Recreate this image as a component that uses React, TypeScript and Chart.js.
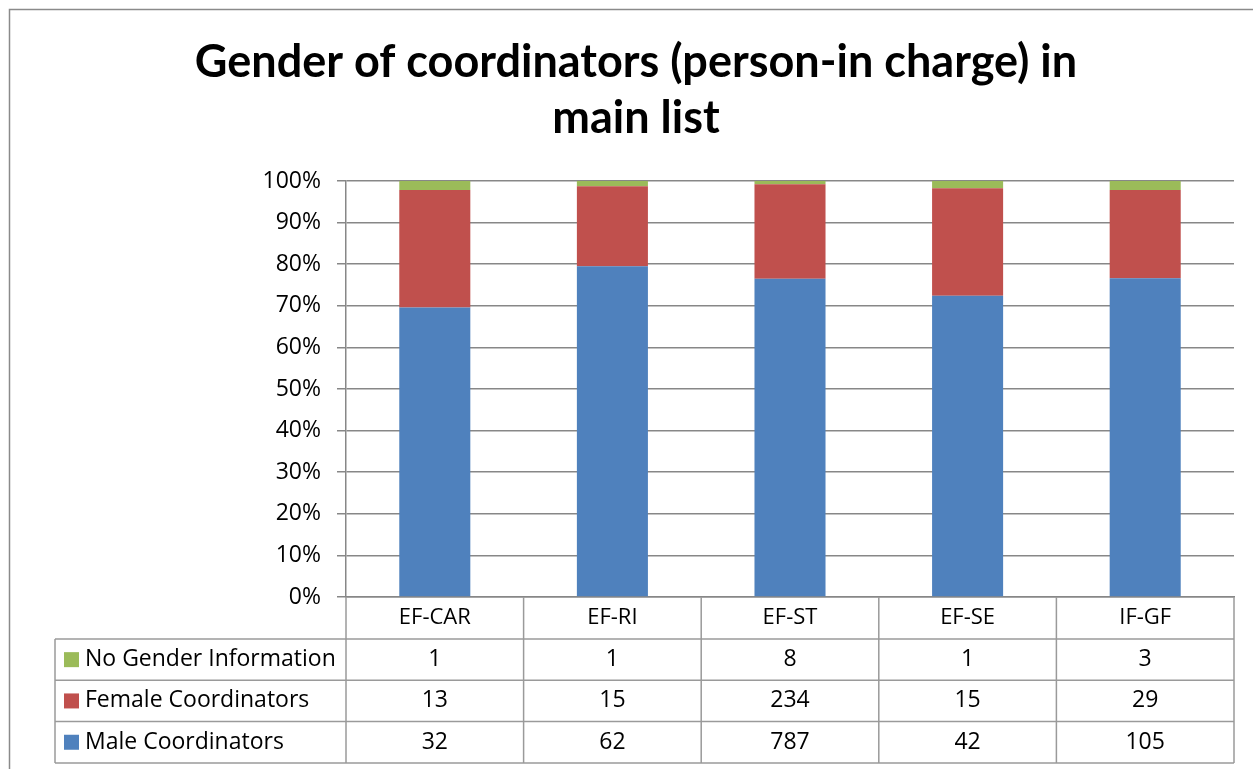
import React, { useEffect, useRef } from "react";
import { Chart, registerables } from "chart.js";

Chart.register(...registerables);

const titleLines = ["Gender of coordinators (person-in charge) in", "main list"];
const categories = ["EF-CAR", "EF-RI", "EF-ST", "EF-SE", "IF-GF"];
const maleCounts = [32, 62, 787, 42, 105];
const femaleCounts = [13, 15, 234, 15, 29];
const noGenderCounts = [1, 1, 8, 1, 3];
const seriesNames = ["Male Coordinators", "Female Coordinators", "No Gender Information"];
const seriesColors = ["#4F81BD", "#C0504D", "#9BBB59"];

const TITLE_FONT = "Lato, 'Open Sans', sans-serif";
const FONT = "'Open Sans', Lato, sans-serif";
const totals = categories.map((_, i) => maleCounts[i] + femaleCounts[i] + noGenderCounts[i]);
const toPct = (arr: number[]) => arr.map((v, i) => (v / totals[i]) * 100);

const tablePlugin = {
  id: "dataTable",
  afterLayout(chart: any) {
    const t = chart.titleBlock;
    if (t) {
      t.left = 19;
      t.right = chart.width;
      t.width = t.right - t.left;
    }
  },
  beforeDraw(chart: any) {
    const ctx = chart.ctx;
    ctx.save();
    ctx.fillStyle = "#ffffff";
    ctx.fillRect(0, 0, chart.width, chart.height);
    ctx.strokeStyle = "#8a8a8a";
    ctx.lineWidth = 1.5;
    ctx.strokeRect(9.5, 9.5, chart.width + 50, chart.height + 50);
    ctx.restore();
  },
  afterDraw(chart: any) {
    const { ctx, chartArea } = chart;
    const xs = chart.scales.x;
    const left = chartArea.left;
    const right = chartArea.right;
    const top = chartArea.bottom;
    const n = categories.length;
    const colW = (right - left) / n;
    const headerH = 42;
    const rowH = 41.3;
    const legendLeft = 55;
    const rows = [
      { name: seriesNames[2], color: seriesColors[2], values: noGenderCounts },
      { name: seriesNames[1], color: seriesColors[1], values: femaleCounts },
      { name: seriesNames[0], color: seriesColors[0], values: maleCounts },
    ];
    const bottom = top + headerH + rows.length * rowH;
    ctx.save();
    ctx.strokeStyle = "#9a9a9a";
    ctx.lineWidth = 1.5;
    ctx.beginPath();
    for (let i = 0; i <= n; i++) {
      const x = left + i * colW;
      ctx.moveTo(x, top);
      ctx.lineTo(x, bottom);
    }
    ctx.moveTo(legendLeft, top + headerH);
    ctx.lineTo(legendLeft, bottom);
    for (let r = 0; r <= rows.length; r++) {
      const y = top + headerH + r * rowH;
      ctx.moveTo(legendLeft, y);
      ctx.lineTo(right, y);
    }
    ctx.stroke();

    ctx.font = `23px ${FONT}`;
    ctx.fillStyle = "#000";
    ctx.textBaseline = "middle";
    rows.forEach((row, r) => {
      const cy = top + headerH + r * rowH + rowH / 2;
      ctx.fillStyle = row.color;
      ctx.fillRect(64, cy - 7.5, 15, 15);
      ctx.fillStyle = "#000";
      ctx.textAlign = "left";
      ctx.fillText(row.name, 85, cy);
      ctx.textAlign = "center";
      row.values.forEach((v, i) => {
        ctx.fillText(String(v), xs.getPixelForValue(i), cy);
      });
    });
    ctx.restore();
  },
};

export default function App() {
  const ref = useRef<HTMLCanvasElement>(null);
  useEffect(() => {
    if (!ref.current) return;
    const chart = new Chart(ref.current, {
      type: "bar",
      data: {
        labels: categories,
        datasets: [
          { label: seriesNames[0], data: toPct(maleCounts), backgroundColor: seriesColors[0] },
          { label: seriesNames[1], data: toPct(femaleCounts), backgroundColor: seriesColors[1] },
          { label: seriesNames[2], data: toPct(noGenderCounts), backgroundColor: seriesColors[2] },
        ],
      },
      options: {
        responsive: false,
        animation: false,
        devicePixelRatio: 1,
        datasets: { bar: { barPercentage: 0.4, categoryPercentage: 1 } },
        layout: { padding: { left: 0, right: 19, top: 0, bottom: 0 } },
        plugins: {
          legend: { display: false },
          tooltip: { enabled: false },
          title: {
            display: true,
            text: titleLines,
            color: "#000",
            font: { family: TITLE_FONT, size: 45, weight: "bold", lineHeight: 1.2444 },
            padding: { top: 34, bottom: 35 },
          },
        },
        scales: {
          x: {
            stacked: true,
            grid: { display: false, drawTicks: false },
            border: { display: true, color: "#878787", width: 1.5 },
            ticks: { color: "#000", font: { family: FONT, size: 22 }, padding: 8, maxRotation: 0 },
            afterFit: (s: any) => {
              s.height = 172;
            },
          },
          y: {
            stacked: true,
            min: 0,
            max: 100,
            grid: { color: "#878787", lineWidth: 1.5, tickLength: 9 },
            border: { display: true, color: "#878787", width: 1.5 },
            ticks: {
              stepSize: 10,
              color: "#000",
              font: { family: FONT, size: 23 },
              padding: 16,
              callback: (v: any) => `${v}%`,
            },
            afterFit: (s: any) => {
              s.width = 346;
            },
          },
        },
      },
      plugins: [tablePlugin],
    });
    return () => chart.destroy();
  }, []);
  return (
    <div style={{ position: "absolute", left: 0, top: 0, width: 1253, height: 769 }}>
      <canvas ref={ref} width={1253} height={769} />
    </div>
  );
}
